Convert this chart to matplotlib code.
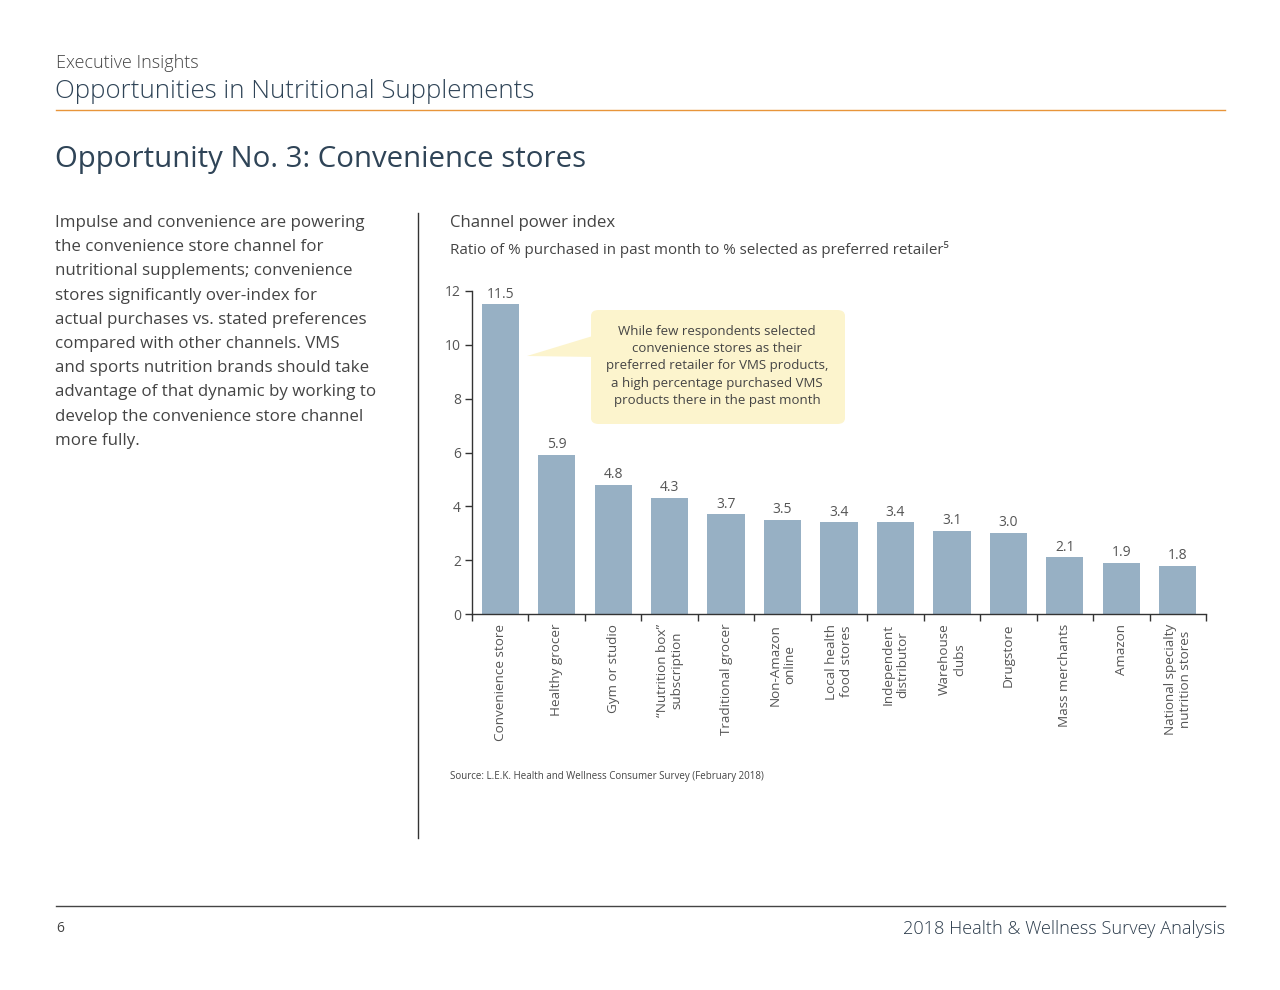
import matplotlib
matplotlib.use("Agg")
import matplotlib.pyplot as plt
from matplotlib.patches import FancyBboxPatch, Polygon
from matplotlib.lines import Line2D

plt.rcParams['font.family'] = ['Open Sans', 'DejaVu Sans']

categories = ["Convenience store", "Healthy grocer", "Gym or studio",
              "\u201cNutrition box\u201d\nsubscription", "Traditional grocer",
              "Non-Amazon\nonline", "Local health\nfood stores", "Independent\ndistributor",
              "Warehouse\nclubs", "Drugstore", "Mass merchants", "Amazon",
              "National specialty\nnutrition stores"]
values = [11.5, 5.9, 4.8, 4.3, 3.7, 3.5, 3.4, 3.4, 3.1, 3.0, 2.1, 1.9, 1.8]
yticks = [0, 2, 4, 6, 8, 10, 12]

W, H = 1280, 990
fig = plt.figure(figsize=(W / 100, H / 100), dpi=100)

def fx(px):
    return px / W

def fy(py):
    return 1 - py / H

def ty(py):
    # text centre positions (small offset for font metrics)
    return 1 - (py + 2) / H

dark = "#2f4457"
gray = "#555555"
txt = "#444444"

# Header
fig.text(fx(56), ty(61), "Executive Insights", fontsize=13, color=txt, va="center", ha="left",
         fontweight="light")
fig.text(fx(55), ty(89), "Opportunities in Nutritional Supplements", fontsize=18.6, color=dark,
         va="center", ha="left", fontweight="light")
fig.add_artist(Line2D([fx(56), fx(1225)], [fy(110), fy(110)], color="#e8953a", lw=1.0))
fig.text(fx(55), ty(157), "Opportunity No. 3: Convenience stores", fontsize=21.2, color=dark,
         va="center", ha="left")

# Body text
body = ["Impulse and convenience are powering",
        "the convenience store channel for",
        "nutritional supplements; convenience",
        "stores significantly over-index for",
        "actual purchases vs. stated preferences",
        "compared with other channels. VMS",
        "and sports nutrition brands should take",
        "advantage of that dynamic by working to",
        "develop the convenience store channel",
        "more fully."]
for i, line in enumerate(body):
    fig.text(fx(55), ty(221 + i * 24.2), line, fontsize=12.2, color=txt, va="center", ha="left")

# Divider
fig.add_artist(Line2D([fx(418), fx(418)], [fy(213), fy(838)], color="#333333", lw=1.0))

# Chart titles
fig.text(fx(450), ty(221), "Channel power index", fontsize=12.1, color=txt, va="center", ha="left")
fig.text(fx(450), ty(247), "Ratio of % purchased in past month to % selected as preferred retailer\u2075",
         fontsize=10.9, color=txt, va="center", ha="left")

# Axes
ax = fig.add_axes([fx(472), fy(614), fx(1206) - fx(472), fy(291) - fy(614)])
x = list(range(len(values)))
bars = ax.bar(x, values, width=0.66, color="#97b0c4", zorder=2)
ax.set_xlim(-0.5, len(values) - 0.5)
ax.set_ylim(0, 12)
ax.set_yticks(yticks)
ax.set_yticklabels([str(t) for t in yticks], fontsize=10, color=gray)
ax.set_xticks(x)
ax.set_xticklabels(categories, rotation=90, fontsize=9.7, color=gray, ha="center", va="top",
                   multialignment="center")
ax.tick_params(axis="x", length=0, pad=7)
ax.set_xticks([i - 0.5 for i in range(len(values) + 1)], minor=True)
ax.tick_params(axis="x", which="minor", length=5, direction="out", color="#333333", width=1)
ax.tick_params(axis="y", length=5, direction="out", color="#333333", width=1, pad=3)
for s in ["top", "right"]:
    ax.spines[s].set_visible(False)
for s in ["left", "bottom"]:
    ax.spines[s].set_color("#333333")
    ax.spines[s].set_linewidth(1)
ax.bar_label(bars, labels=[f"{v:.1f}" for v in values], padding=2, fontsize=10, color=gray)

# Callout
bx0, by0, bx1, by1 = 591, 310, 845, 424
box = FancyBboxPatch((fx(bx0), fy(by1)), fx(bx1) - fx(bx0), fy(by0) - fy(by1),
                     boxstyle="round,pad=0,rounding_size=0.006",
                     transform=fig.transFigure, facecolor="#fcf4cd", edgecolor="none", zorder=5)
fig.add_artist(box)
tri = Polygon([(fx(527), fy(356)), (fx(596), fy(335)), (fx(596), fy(357))],
              closed=True, transform=fig.transFigure, facecolor="#fcf4cd", edgecolor="none", zorder=5)
fig.add_artist(tri)
callout = ("While few respondents selected\nconvenience stores as their\n"
           "preferred retailer for VMS products,\na high percentage purchased VMS\n"
           "products there in the past month")
fig.text(fx(717), ty(364), callout, fontsize=9.5, color=txt, ha="center", va="center",
         multialignment="center", linespacing=1.42, zorder=6)

# Source
fig.text(fx(450), ty(774), "Source: L.E.K. Health and Wellness Consumer Survey (February 2018)",
         fontsize=7, color=txt, va="center", ha="left",
         family=["Liberation Sans Narrow", "Open Sans", "DejaVu Sans"])

# Footer
fig.add_artist(Line2D([fx(56), fx(1225)], [fy(906), fy(906)], color="#444444", lw=1.0))
fig.text(fx(56), ty(927), "6", fontsize=10, color=txt, va="center", ha="left")
fig.text(fx(1225), ty(927), "2018 Health & Wellness Survey Analysis", fontsize=13.1, color="#2a3a4a",
         va="center", ha="right", fontweight="light")

fig.savefig("out.png", dpi=100, facecolor="white")
